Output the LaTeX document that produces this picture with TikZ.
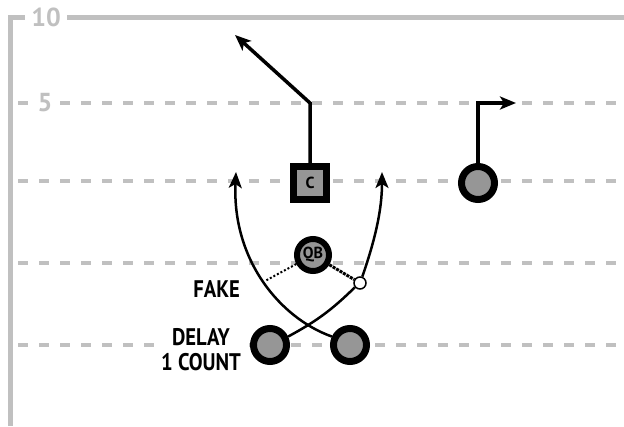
\documentclass[tikz,border=0pt]{standalone}
\usepackage{fontspec}
\setmainfont{PT Sans}
\usetikzlibrary{arrows.meta}
\definecolor{field}{RGB}{192,192,192}
\definecolor{player}{RGB}{150,150,150}

\begin{document}
\begin{tikzpicture}[x=1pt,y=-1pt,
		frame/.style={draw=field,line width=5pt},
		yard/.style={draw=field,line width=4pt,dash pattern=on 10pt off 11pt},
		yardno/.style={text=field,font=\fontsize{26}{26}\selectfont\bfseries,fill=white,inner ysep=2pt},
		man/.style={circle,draw,line width=7pt,fill=player,minimum size=33pt,inner sep=0pt,font=\fontsize{16}{16}\selectfont\bfseries},
		route/.style={line width=2.5pt,-{Stealth[length=16pt,width=13pt,inset=4pt]}},
		call/.style={font=\fontsize{24}{25}\selectfont\bfseries,align=center,xscale=0.86,transform shape}]
			\useasboundingbox (0,0) rectangle (624,426);
			
			% field
			\draw[frame] (624,17) -- (10,17) -- (10,426);
			\draw[yard] (18,103) -- (624,103);
			\draw[yard] (18,181) -- (624,181);
			\draw[yard] (18,263) -- (624,263);
			\draw[yard] (18,345) -- (624,345);
			\node (ten) at (46,17) [yardno,inner xsep=6pt] {10};
			\node (five) at (45,103) [yardno,inner xsep=3pt] {5};
			
			\coordinate (cbreak) at (310,103);
			\coordinate (ctip) at (235,35);
			\coordinate (wrbreak) at (478,103);
			\coordinate (wrtip) at (516,103);
			\coordinate (lefttip) at (236,172);
			\coordinate (righttip) at (382,172);
			\coordinate (fakept) at (265,281);
			
			% players
			\node (c) at (310,183) [man,rectangle] {C};
			\node (wr) at (478,183) [man] {};
			\node (qb) at (313,255) [man,line width=6pt,minimum size=32pt] {QB};
			\node (fk) at (360,283) [circle,draw,fill=white,line width=1.5pt,minimum size=12pt,inner sep=0pt] {};
			\node (lb) at (270,345) [man] {};
			\node (rb) at (350,345) [man] {};
			
			% routes
			\draw[route,line width=3.5pt] (c.north) -- (cbreak) -- (ctip);
			\draw[route,line width=3.5pt] (wr.north) -- (wrbreak) -- (wrtip);
			\draw[route] (rb.155) .. controls (280,318) and (232,260) .. (lefttip);
			\draw[line width=2.5pt] (lb.25) to[bend right=8] (fk.220);
			\draw[route] (fk.70) .. controls (375,240) and (382,210) .. (righttip);
			\draw[densely dotted,line width=3pt] (qb) -- (fk);
			\draw[dotted,line width=2pt] (qb) -- (fakept);
			
			% calls
			\node (fake) at (243,297) [call,anchor=base east] {FAKE};
			\node (delay) at (201,350) [call,fill=white,inner sep=1pt] {DELAY\\1 COUNT};
		\end{tikzpicture}
\end{document}
